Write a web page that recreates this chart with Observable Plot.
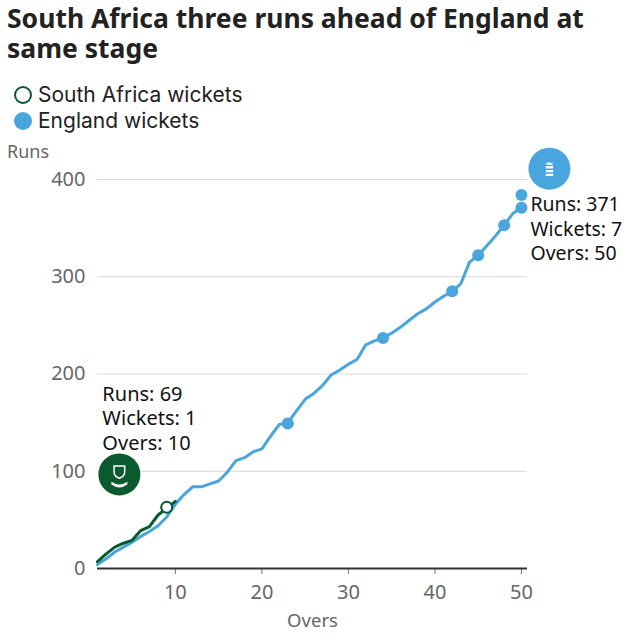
<!DOCTYPE html>
<html>
<head>
<meta charset="utf-8">
<script src="https://cdn.jsdelivr.net/npm/d3@7"></script>
<script src="https://cdn.jsdelivr.net/npm/@observablehq/plot@0.6"></script>
<style>
  body { margin: 0; background: #fff; font-family: "Noto Sans", sans-serif; color: #222; }
  #wrap { position: relative; width: 640px; height: 640px; overflow: hidden; }
  #title { position: absolute; left: 7px; top: 3px; width: 625px; font-size: 26.5px; font-weight: 700; line-height: 30px; color: #222; }
  #legend { position: absolute; left: 14px; top: 82px; font-family: Inter, "Noto Sans", sans-serif; font-size: 21px; line-height: 26px; color: #222; }
  .li { display: flex; align-items: center; gap: 6px; height: 26px; }
  .sw { width: 18px; height: 18px; border-radius: 50%; box-sizing: border-box; flex: none; }
  #runs { position: absolute; left: 7px; top: 139px; font-size: 18px; color: #666; z-index: 2; }
  #chart { position: absolute; left: 0; top: 140px; z-index: 1; }
</style>
</head>
<body>
<div id="wrap">
  <div id="title"></div>
  <div id="legend"></div>
  <div id="chart"></div>
  <div id="runs"></div>
</div>
<script>
// ---- data ----
const titleText = "South Africa three runs ahead of England at same stage";
const teams = ["South Africa", "England"];
const teamColors = ["#0b5a2e", "#49a5de"];
const yLabel = "Runs";
const xLabel = "Overs";

const saOvers = [1, 2, 3, 4, 5, 6, 7, 8, 9, 10];
const saRuns  = [7, 15, 22, 26, 29, 39, 43, 55, 62, 69];
const saWicketOvers = [9];
const saWicketRuns  = [63];

const engOvers = [1,2,3,4,5,6,7,8,9,10,11,12,13,14,15,16,17,18,19,20,21,22,23,24,25,26,27,28,29,30,31,32,33,34,35,36,37,38,39,40,41,42,43,44,45,46,47,48,49,50];
const engRuns  = [4,10,17,22,27,33,38,44,53,66,76,84,84,87,90,99,111,114,120,123,136,148,150,162,174,180,188,199,204,210,215,230,234,237,242,248,255,262,267,274,280,285,293,315,322,332,342,353,365,371];
const engWicketOvers = [23, 34, 42, 45, 48, 50, 50];
const engWicketRuns  = [149, 237, 285, 322, 353, 371, 384];

const saSummary  = {runs: 69, wickets: 1, overs: 10};
const engSummary = {runs: 371, wickets: 7, overs: 50};

const yTicks = [0, 100, 200, 300, 400];
const xTicks = [10, 20, 30, 40, 50];

// ---- tables ----
const sa  = saOvers.map((o, i) => ({over: o, runs: saRuns[i]}));
const eng = engOvers.map((o, i) => ({over: o, runs: engRuns[i]}));
const saW  = saWicketOvers.map((o, i) => ({over: o, runs: saWicketRuns[i]}));
const engW = engWicketOvers.map((o, i) => ({over: o, runs: engWicketRuns[i]}));
const saEnd = sa[sa.length - 1];
const engEnd = eng[eng.length - 1];

const [saColor, engColor] = teamColors;

// ---- header ----
document.getElementById("title").textContent = titleText;
document.getElementById("runs").textContent = yLabel;
document.getElementById("legend").innerHTML =
  `<div class="li"><span class="sw" style="border:2.5px solid ${saColor};background:#fff"></span><span>${teams[0]} wickets</span></div>` +
  `<div class="li"><span class="sw" style="background:${engColor}"></span><span>${teams[1]} wickets</span></div>`;

// ---- logo symbols ----
const shield = {
  draw(ctx, size) {
    const s = Math.sqrt(size) / 2;
    ctx.moveTo(-s, -s);
    ctx.lineTo(s, -s);
    ctx.lineTo(s, 0.1 * s);
    ctx.quadraticCurveTo(s, 0.9 * s, 0, 1.3 * s);
    ctx.quadraticCurveTo(-s, 0.9 * s, -s, 0.1 * s);
    ctx.closePath();
  }
};
const banner = {
  draw(ctx, size) {
    const s = Math.sqrt(size) / 2;
    ctx.moveTo(-s, -0.2 * s);
    ctx.quadraticCurveTo(0, 0.5 * s, s, -0.2 * s);
    ctx.lineTo(s, 0.15 * s);
    ctx.quadraticCurveTo(0, 0.85 * s, -s, 0.15 * s);
    ctx.closePath();
  }
};
const lions = {
  draw(ctx, size) {
    const s = Math.sqrt(size) / 2;
    ctx.moveTo(-0.5 * s, -0.95 * s);
    ctx.lineTo(-0.5 * s, -1.35 * s);
    ctx.lineTo(-0.25 * s, -1.15 * s);
    ctx.lineTo(0, -1.45 * s);
    ctx.lineTo(0.25 * s, -1.15 * s);
    ctx.lineTo(0.5 * s, -1.35 * s);
    ctx.lineTo(0.5 * s, -0.95 * s);
    ctx.closePath();
    for (let k = 0; k < 3; k++) {
      const y0 = -0.75 * s + k * 0.62 * s;
      ctx.rect(-0.6 * s, y0, 1.2 * s, 0.38 * s);
    }
  }
};

const chart = Plot.plot({
  width: 640,
  height: 500,
  marginTop: 39,
  marginBottom: 72,
  marginLeft: 97,
  marginRight: 113,
  style: {color: "#666", fontFamily: "'Noto Sans', sans-serif", background: "transparent"},
  x: {domain: [1, 50.7]},
  y: {domain: [0, 400]},
  marks: [
    Plot.gridY(yTicks.filter(d => d > 0), {stroke: "#d9d9d9", strokeOpacity: 1, strokeWidth: 1.2}),
    Plot.axisY(yTicks, {tickSize: 0, tickPadding: 12, fontSize: 20, fill: "#666", label: null}),
    Plot.axisX(xTicks, {tickSize: 6, tickPadding: 10, fontSize: 20, fill: "#666", stroke: "#777", label: null}),
    Plot.ruleY([0], {stroke: "#333", strokeWidth: 2}),
    Plot.text([xLabel], {frameAnchor: "bottom", dy: 53, fontSize: 18.5, fill: "#666", lineAnchor: "middle"}),
    Plot.line(eng, {x: "over", y: "runs", stroke: engColor, strokeWidth: 3}),
    Plot.line(sa, {x: "over", y: "runs", stroke: saColor, strokeWidth: 3}),
    Plot.dot(engW, {x: "over", y: "runs", r: 6, fill: engColor, stroke: "none"}),
    Plot.dot(saW, {x: "over", y: "runs", r: 5.5, fill: "#fff", stroke: saColor, strokeWidth: 2}),
    // annotations
    Plot.text([saEnd], {x: "over", y: "runs", dx: -73, dy: -84, textAnchor: "start", lineAnchor: "middle",
      text: () => `Runs: ${saSummary.runs}\nWickets: ${saSummary.wickets}\nOvers: ${saSummary.overs}`,
      fontSize: 20, lineHeight: 1.22, fill: "#111"}),
    Plot.text([engEnd], {x: "over", y: "runs", dx: 9, dy: 20, textAnchor: "start", lineAnchor: "middle",
      text: () => `Runs: ${engSummary.runs}\nWickets: ${engSummary.wickets}\nOvers: ${engSummary.overs}`,
      fontSize: 19.5, lineHeight: 1.27, fill: "#111"}),
    // logos
    Plot.dot([saEnd], {x: "over", y: "runs", dx: -56, dy: -27, r: 21, fill: saColor, stroke: "none"}),
    Plot.dot([saEnd], {x: "over", y: "runs", dx: -56, dy: -30, symbol: shield, r: 6, fill: "none", stroke: "#fff", strokeWidth: 1.5}),
    Plot.dot([saEnd], {x: "over", y: "runs", dx: -56, dy: -18, symbol: banner, r: 9, fill: "#fff", stroke: "none"}),
    Plot.dot([engEnd], {x: "over", y: "runs", dx: 28, dy: -39, r: 21, fill: engColor, stroke: "none"}),
    Plot.dot([engEnd], {x: "over", y: "runs", dx: 28, dy: -37, symbol: lions, r: 7, fill: "#fff", stroke: "none"})
  ]
});
document.getElementById("chart").appendChild(chart);
</script>
</body>
</html>
